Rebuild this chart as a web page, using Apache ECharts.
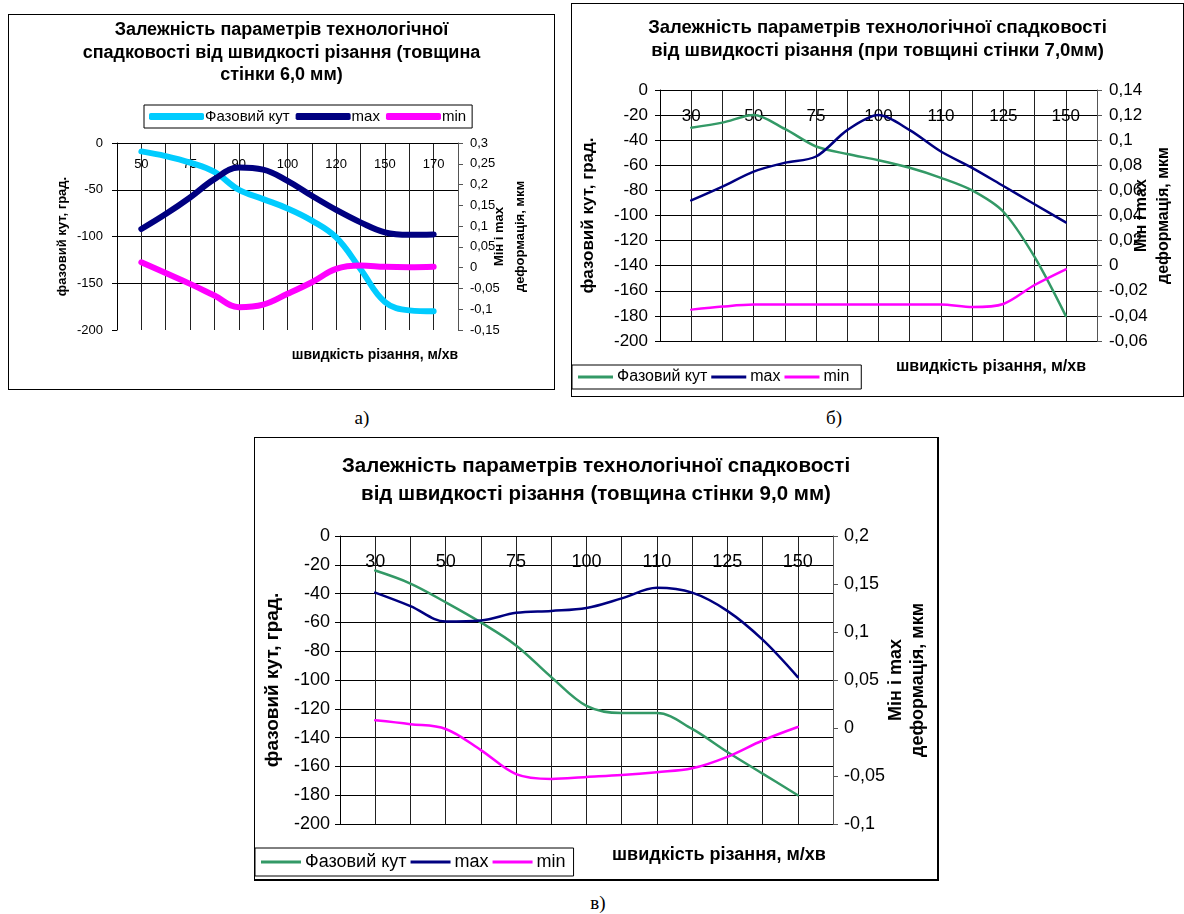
<!DOCTYPE html>
<html>
<head>
<meta charset="utf-8">
<title>Залежність параметрів технологічної спадковості</title>
<script src="https://cdn.jsdelivr.net/npm/echarts@6/dist/echarts.min.js"></script>
<style>
    body { margin: 0; width: 1184px; height: 914px; background: #fff; position: relative; overflow: hidden; }
    .box { position: absolute; border: 1px solid #000; box-sizing: border-box; background: #fff; }
    .cap { position: absolute; font-family: "Liberation Serif", serif; font-size: 19px; transform: translate(-50%, -50%); }
</style>
</head>
<body>
<div id="chart_a" class="box" style="left: 8px; top: 14px; width: 547px; height: 376px;"></div>
<div id="chart_b" class="box" style="left: 571px; top: 3px; width: 613px; height: 394px;"></div>
<div id="chart_c" class="box" style="left: 254px; top: 437px; width: 685px; height: 444px; border-bottom-width: 2px; border-right-width: 2px;"></div>
<div class="cap" style="left: 362px; top: 418px;">а)</div>
<div class="cap" style="left: 834px; top: 418px;">б)</div>
<div class="cap" style="left: 598px; top: 903px;">в)</div>

<script>
    // speeds on the category axis (blank = unlabelled grid line)
    var speedsA = ['50', '', '75', '', '90', '', '100', '', '120', '', '150', '', '170'];
    var phaseA = [-9, -14, -21, -31, -50, -60, -70, -83, -101, -135, -170, -179, -180];
    var maxA = [0.093, 0.129, 0.169, 0.213, 0.241, 0.236, 0.209, 0.173, 0.139, 0.109, 0.085, 0.079, 0.080];
    var minA = [0.013, -0.013, -0.039, -0.067, -0.095, -0.089, -0.063, -0.035, -0.003, 0.005, 0.002, 0.001, 0.002];

    var speedsB = ['30', '', '50', '', '75', '', '100', '', '110', '', '125', '', '150'];
    var phaseB = [-30, -26, -20, -31, -45, -51, -56, -62, -70, -80, -97, -133, -180];
    var maxB = [0.052, 0.063, 0.075, 0.082, 0.087, 0.108, 0.120, 0.108, 0.091, 0.078, 0.0635, 0.049, 0.0345];
    var minB = [-0.035, -0.0326, -0.031, -0.031, -0.031, -0.031, -0.031, -0.031, -0.031, -0.033, -0.0305, -0.0154, -0.0029];

    var speedsC = ['30', '', '50', '', '75', '', '100', '', '110', '', '125', '', '150'];
    var phaseC = [-24, -33, -46, -60, -76, -98, -118, -123, -123, -134, -150, -165, -180];
    var maxC = [0.141, 0.127, 0.111, 0.112, 0.120, 0.122, 0.125, 0.135, 0.146, 0.141, 0.122, 0.092, 0.053];
    var minC = [0.008, 0.004, -0.001, -0.023, -0.048, -0.053, -0.051, -0.049, -0.046, -0.042, -0.030, -0.013, 0.001];

    var names = ['Фазовий кут', 'max', 'min'];
    var font = 'Liberation Sans';

    function comma(v) {
        return String(+v.toFixed(3)).replace('.', ',');
    }

    function build(c) {
        // one empty slot at each end so the curves start one grid step inside the axes
        var cats = [''].concat(c.speeds, ['']);
        var pad = arr => [null].concat(arr, [null]);
        var values = [c.phase, c.max, c.min];
        return {
            animation: false,
            textStyle: { fontFamily: font, color: '#000' },
            title: {
                text: c.title,
                left: 'center',
                top: c.titleTop,
                padding: 0,
                textStyle: { fontFamily: font, fontSize: c.titleSize, fontWeight: 'bold', lineHeight: c.titleLH, color: '#000' }
            },
            legend: {
                left: c.legend.left,
                top: c.legend.top,
                padding: c.legend.padding,
                borderColor: '#000',
                borderWidth: 1,
                icon: c.legend.icon,
                itemWidth: c.legend.itemWidth,
                itemHeight: c.legend.itemHeight,
                itemGap: c.legend.gap,
                textStyle: { fontFamily: font, fontSize: c.legend.fontSize, color: '#000', padding: [0, 0, 0, c.legend.textShift] },
                data: names
            },
            grid: c.grid,
            xAxis: {
                type: 'category',
                data: cats,
                boundaryGap: false,
                position: 'top',
                axisLine: { onZero: false, lineStyle: { color: '#000' } },
                axisTick: { show: false },
                axisLabel: { inside: true, interval: 0, margin: c.labelMargin, fontSize: c.tickSize, color: '#000' },
                splitLine: { show: true, lineStyle: { color: '#222', width: 1 } }
            },
            yAxis: [{
                type: 'value',
                min: -200,
                max: 0,
                interval: c.leftStep,
                name: 'фазовий кут, град.',
                nameLocation: 'middle',
                nameRotate: 90,
                nameGap: c.leftNameGap,
                nameMoveOverlap: false,
                nameTextStyle: { fontFamily: font, fontSize: c.nameSize, fontWeight: 'bold', color: '#000' },
                axisLine: { show: true, lineStyle: { color: '#000' } },
                axisTick: { show: true, length: 5, lineStyle: { color: '#000' } },
                axisLabel: { fontSize: c.tickSize, color: '#000', margin: c.leftMargin },
                splitLine: { show: true, showMinLine: c.minLine, lineStyle: { color: '#000', width: 1 } }
            }, {
                type: 'value',
                position: 'right',
                min: c.right[0],
                max: c.right[1],
                interval: c.right[2],
                name: 'Мін і max\nдеформація, мкм',
                nameLocation: 'middle',
                nameRotate: 90,
                nameGap: c.rightNameGap,
                nameMoveOverlap: false,
                nameTextStyle: { fontFamily: font, fontSize: c.rightNameSize, fontWeight: 'bold', color: '#000', lineHeight: c.rightNameLH },
                axisLine: { show: true, lineStyle: { color: '#555' } },
                axisTick: { show: true, length: 5, lineStyle: { color: '#555' } },
                axisLabel: { fontSize: c.tickSize, color: '#000', margin: c.rightMargin, formatter: comma },
                splitLine: { show: false }
            }],
            graphic: [{
                type: 'text',
                x: c.xTitle[0],
                y: c.xTitle[1],
                style: {
                    text: 'швидкість різання, м/хв',
                    fontFamily: font,
                    fontSize: c.xTitle[2],
                    fontWeight: 'bold',
                    fill: '#000',
                    align: 'center',
                    verticalAlign: 'middle'
                }
            }],
            series: names.map((n, i) => ({
                name: n,
                type: 'line',
                yAxisIndex: i === 0 ? 0 : 1,
                data: pad(values[i]),
                symbol: 'none',
                smooth: c.smooth,
                color: c.colors[i],
                lineStyle: { width: c.lineWidth, color: c.colors[i], cap: 'round', join: 'round' }
            }))
        };
    }

    var charts = [{
        id: 'chart_a',
        title: 'Залежність параметрів технологічної\nспадковості від швидкості різання (товщина\nстінки 6,0 мм)',
        titleTop: 4, titleSize: 18, titleLH: 22.5,
        speeds: speedsA, phase: phaseA, max: maxA, min: minA,
        colors: ['#00CCFF', '#000080', '#FF00FF'],
        lineWidth: 6,
        smooth: 0.4,
        grid: { left: 108, right: 96, top: 128, bottom: 59 },
        leftStep: 50,
        right: [-0.15, 0.3, 0.05],
        minLine: false,
        tickSize: 13, nameSize: 13, rightNameSize: 13, labelMargin: 15,
        leftMargin: 14, rightMargin: 12,
        leftNameGap: 48, rightNameGap: 31, rightNameLH: 21,
        legend: { left: 135, top: 90, padding: [4, 6, 4, 5], icon: 'roundRect', itemWidth: 55, itemHeight: 7, gap: 6, fontSize: 15, textShift: -4 },
        xTitle: [366, 340, 14]
    }, {
        id: 'chart_b',
        title: 'Залежність параметрів технологічної спадковості\nвід швидкості різання (при товщині стінки 7,0мм)',
        titleTop: 12, titleSize: 18.5, titleLH: 23,
        speeds: speedsB, phase: phaseB, max: maxB, min: minB,
        colors: ['#339966', '#000080', '#FF00FF'],
        lineWidth: 2.5,
        smooth: 0.3,
        grid: { left: 80, right: 85, top: 86, bottom: 55 },
        leftStep: 20,
        right: [-0.06, 0.14, 0.02],
        minLine: true,
        tickSize: 17, nameSize: 17, rightNameSize: 16, labelMargin: 18,
        leftMargin: 12, rightMargin: 12,
        leftNameGap: 63, rightNameGap: 34, rightNameLH: 22,
        legend: { left: 0, top: 361, padding: [4, 12, 4, 6], icon: 'rect', itemWidth: 35, itemHeight: 3, gap: 4, fontSize: 16, textShift: -1 },
        xTitle: [419, 363, 16]
    }, {
        id: 'chart_c',
        title: 'Залежність параметрів технологічної спадковості\nвід швидкості різання (товщина стінки 9,0 мм)',
        titleTop: 14, titleSize: 20.5, titleLH: 28,
        speeds: speedsC, phase: phaseC, max: maxC, min: minC,
        colors: ['#339966', '#000080', '#FF00FF'],
        lineWidth: 2.5,
        smooth: 0.35,
        grid: { left: 85, right: 98, top: 98, bottom: 55 },
        leftStep: 20,
        right: [-0.1, 0.2, 0.05],
        minLine: true,
        tickSize: 18, nameSize: 19, rightNameSize: 18, labelMargin: 17,
        leftMargin: 10, rightMargin: 11,
        leftNameGap: 58, rightNameGap: 52, rightNameLH: 22,
        legend: { left: 0, top: 410, padding: [5, 8, 5, 6], icon: 'rect', itemWidth: 40, itemHeight: 3, gap: 4, fontSize: 18, textShift: -1 },
        xTitle: [464, 417, 18]
    }];

    charts.forEach(c => {
        var chart = echarts.init(document.getElementById(c.id));
        chart.setOption(build(c));
    });
</script>
</body>
</html>
